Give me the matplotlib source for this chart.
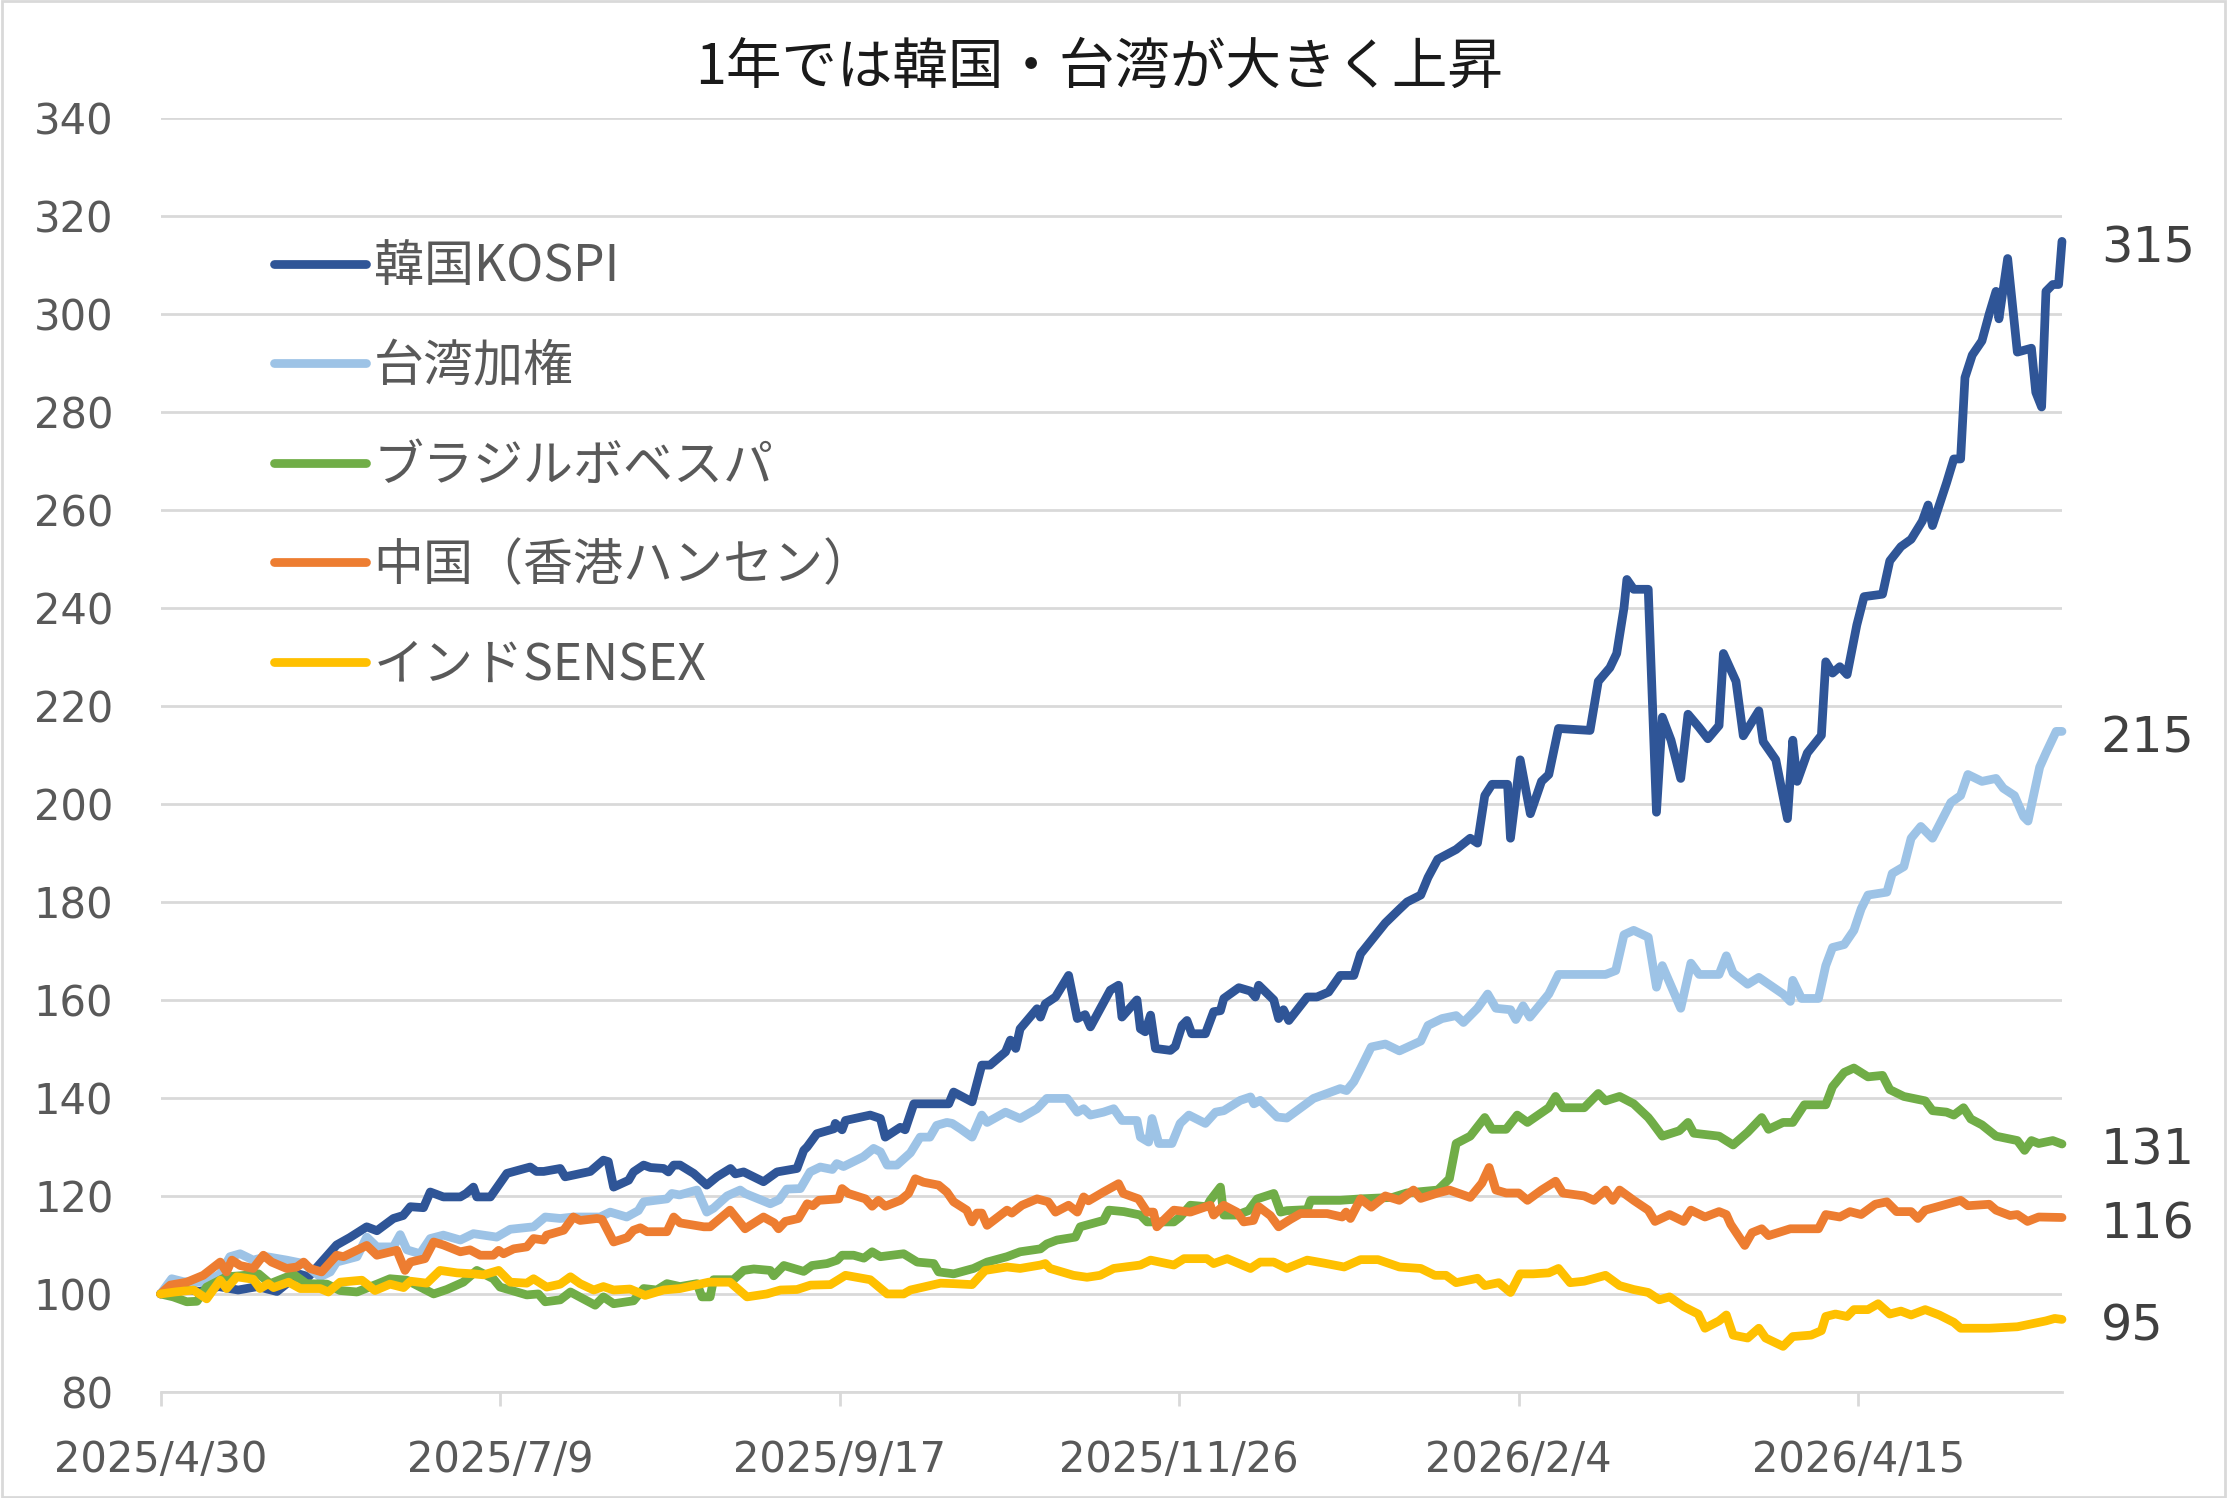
import numpy as np
import pandas as pd
import matplotlib
matplotlib.use("Agg")
import matplotlib.pyplot as plt
import matplotlib.dates as mdates
from matplotlib.patches import Rectangle

# 2025/4/30 = 100, day offsets
start = pd.Timestamp("2025-04-30")

kospi_days = [0, 4, 8, 12, 16, 20, 24, 26.5, 28.8, 30.5, 32.9, 36.3, 39, 42.5, 44.6, 48, 50, 51.5, 54.2, 55.6,
              58.3, 61.8, 63, 64.5, 65.2, 68, 71.4, 76.2, 77.5, 79, 82.4, 83.4, 88.6, 91.3, 92.3, 93.4, 96.5,
              97.5, 99.6, 101, 103.7, 104.7, 105.8, 107.1, 109.9, 112.6, 114.7, 117.5, 118.5, 120.2, 124.3,
              127.1, 131.2, 132.6, 133.3, 135.3, 138.8, 139.1, 140.5, 141.2, 146.3, 148.4, 149.4, 152.5, 153.5,
              155.3, 162.5, 163.5, 167.3, 169.3, 171, 174.2, 175.2, 176.3, 177.2, 180.7, 181.4, 182.4, 184.5,
              187.2, 189, 190.6, 191.7, 195.8, 197.5, 198.2, 201.3, 202, 203, 204.1, 205.1, 208.2, 209.2, 210.6,
              211.6, 212.6, 215.4, 217.1, 218.5, 219.2, 222.3, 224.7, 225.7, 226.4, 229.5, 230.5, 231.5, 232.6,
              236.4, 238.4, 240.8, 243.2, 246, 247.4, 252.5, 255.4, 257, 259.8, 261.3, 263.3, 267.1, 270, 271.5,
              273, 274.5, 277.7, 278.3, 280.3, 282.4, 284.7, 286.2, 288.2, 294.7, 296.4, 298.8, 300.2, 301.7,
              302.3, 303.7, 306.7, 308.4, 309.6, 311.4, 313.4, 314.9, 317.2, 319, 321.3, 322.2, 324.8, 326.3,
              329.5, 330.4, 333, 335.4, 336.5, 337.4, 339.5, 342.4, 343.3, 344.7, 346.2, 347.7, 349.7, 351.2,
              355, 356.5, 358.8, 360.9, 363.2, 364.4, 365.3, 368.2, 369.7, 371.1, 372, 373.5, 375.5, 377, 378.4,
              379, 380.8, 382.8, 385.7, 386.6, 387.8, 388.7, 390.1, 391.3, 392]
kospi_vals = [100, 101.2, 100.5, 101.5, 100.8, 101.5, 100.5, 102.5, 104, 103.5, 106.2, 110, 111.5, 113.7, 112.9,
              115.4, 116, 117.8, 117.6, 120.8, 119.8, 119.8, 120.5, 121.8, 119.8, 119.8, 124.6, 125.9, 125,
              125, 125.6, 123.9, 125, 127.3, 127, 121.8, 123.2, 124.9, 126.3, 125.8, 125.6, 124.9, 126.3, 126.3,
              124.6, 122.2, 123.9, 125.6, 124.5, 124.9, 122.9, 124.9, 125.6, 129.3, 130, 132.7, 133.7, 134.8,
              133.5, 135.4, 136.5, 135.8, 132, 134, 133.5, 138.8, 138.8, 141.2, 139.2, 146.7, 146.7, 149.4,
              151.8, 150.1, 154.1, 158.2, 156.5, 159.2, 160.6, 165, 156.2, 157, 154.5, 162, 163, 156.5, 160,
              154.1, 153.5, 156.9, 150.1, 149.7, 150.5, 154.8, 155.8, 153.1, 153.1, 157.6, 157.8, 160.3, 162.5,
              161.8, 160.6, 163, 160, 156.2, 158, 155.8, 160.6, 160.6, 161.6, 165, 165, 169.4, 175.7, 178.5,
              180, 181.4, 185, 188.7, 190.7, 193, 192, 201.7, 204, 204, 193, 209, 198, 204.6, 206, 215.4, 215,
              225, 227.8, 230.7, 240, 245.8, 243.8, 243.8, 198.3, 217.7, 213, 205.2, 218.3, 215.6, 213.3, 216,
              230.7, 225, 213.9, 219, 212.7, 209, 197, 213, 204.6, 210.4, 214, 229, 226.7, 228, 226.4, 236.5,
              242.3, 242.8, 249.6, 252.5, 254, 257.7, 261, 256.8, 265.5, 270.4, 270.4, 287, 291.6, 294.5, 300,
              304.6, 299, 311.3, 292.2, 293, 284, 281, 304.6, 306, 306, 314.8]

taiwan_days = [0, 2.3, 4.7, 9.5, 12.3, 14.3, 16.4, 19.1, 21.9, 26, 29.5, 32.9, 35, 36.3, 40.5, 42.5, 44.6, 48,
               49.4, 50.8, 53.5, 55.6, 58.3, 61.8, 64.5, 69.3, 72.1, 76.9, 79.3, 82.4, 85.1, 90.6, 92.7, 96.1,
               98.5, 99.6, 104.4, 105.4, 107, 110.6, 112.6, 114, 116.8, 119.5, 120.5, 125.7, 127.5, 129.1, 131.9,
               133.9, 136, 138.5, 139.4, 140.8, 144.9, 147, 148.4, 149.8, 151.8, 154.6, 156.6, 158.6, 160, 162.1,
               163.2, 164.9, 167.3, 169.3, 170.4, 174.2, 177.2, 180.7, 182.7, 186.9, 189, 190.3, 191.7, 194.4,
               196.5, 198.2, 201.3, 202, 203.7, 204.4, 205.8, 208.5, 210.2, 212, 215.4, 217.5, 219.2, 222.6,
               224.7, 225.4, 226.7, 230.2, 232.2, 237.7, 243.2, 244.5, 246, 247.4, 249.6, 252.5, 255.4, 259.8,
               261.3, 264.2, 267.1, 268.6, 271.5, 273.6, 275.3, 278.3, 279.4, 280.9, 282.3, 286.2, 288.2, 297.9,
               300, 301.7, 303.7, 306.7, 308.4, 309.6, 313.4, 315.5, 317.2, 321.3, 322.8, 324.2, 327.2, 329.5,
               334.5, 336, 336.5, 338.3, 341.8, 343.3, 344.7, 347.1, 349.1, 350.6, 352, 355.9, 357, 359.4, 360.9,
               362.9, 365.3, 369.1, 371.1, 372.6, 375.5, 378.4, 379.9, 382.2, 384.1, 385, 387.4, 388.7, 390.8, 392]
taiwan_vals = [100, 103.1, 102.5, 102.4, 104.1, 107.6, 108.2, 106.9, 107.6, 106.9, 106.2, 103.5, 104.5, 106.5,
               107.6, 111.6, 109.6, 109.6, 112.1, 109, 108.2, 111.3, 112, 111, 112.3, 111.6, 113.2, 113.7, 115.7,
               115.4, 115.7, 115.7, 116.7, 115.7, 117, 118.8, 119.4, 120.5, 120.2, 121.2, 116.7, 117.5, 120,
               121.2, 120.5, 118.4, 119.2, 121.4, 121.5, 124.9, 125.9, 125.4, 126.6, 126, 128, 129.7, 129, 126.3,
               126.3, 128.8, 132, 132, 134.4, 135, 134.8, 133.7, 132, 136.5, 135, 137.1, 135.8, 137.8, 139.9,
               139.9, 137.1, 137.8, 136.5, 137.1, 137.8, 135.4, 135.4, 132, 131, 135.8, 130.7, 130.7, 134.8,
               136.5, 134.8, 137.1, 137.4, 139.5, 140.2, 138.8, 139.5, 136.1, 135.9, 139.9, 141.9, 141.5, 143.3,
               146, 150.4, 151, 149.6, 151.6, 154.8, 156.2, 156.8, 155.4, 158.3, 161.2, 158.3, 158, 156, 158.8,
               156.5, 161.2, 165.2, 165.2, 166, 173.3, 174.2, 172.8, 162.6, 167, 158.3, 167.5, 165.2, 165.2, 169,
               165.5, 163.2, 164.6, 161.2, 159.7, 164, 160.3, 160.3, 167, 170.7, 171.3, 174.2, 178.6, 181.4, 182,
               185.8, 187.2, 193, 195.4, 193, 200.3, 201.7, 206, 204.6, 205.2, 203.2, 201.7, 197.4, 196.5, 207.5,
               210.4, 214.8, 214.8]

brazil_days = [0, 2.6, 5.4, 7.5, 9.5, 13.6, 16.4, 20.2, 22.6, 27.4, 30.1, 34.3, 37, 40.5, 44.6, 47.3, 50.8, 54.9,
               56.3, 59, 62.4, 65.2, 68.6, 70, 75.5, 77.9, 79.3, 82.4, 84.5, 89.6, 91.3, 93.4, 97.5, 99.6, 102.3,
               104.4, 107.1, 110.6, 111.6, 113.3, 114, 118.1, 120.2, 122.3, 125.7, 126.4, 128.5, 132.6, 134.3,
               137.4, 139.5, 140.5, 142.9, 145, 146.7, 148.4, 153.2, 156, 159.4, 160.4, 163.5, 167.6, 170.4,
               174.5, 177.2, 181.4, 182.7, 184.8, 188.6, 189.6, 194.4, 195.5, 198.6, 202, 203.4, 208.9, 210.2,
               212.3, 215.7, 216.4, 218.5, 219.2, 221.9, 224.3, 226.1, 229.5, 230.9, 232.2, 236.4, 237.1, 243.2,
               247.4, 254, 256.9, 263.3, 265.7, 267.1, 270, 273, 274.5, 277.4, 279.7, 281.8, 286.2, 287.6, 289.1,
               293.5, 296.4, 297.9, 300.8, 303.7, 306.7, 307.5, 309.6, 313.1, 314.9, 316.1, 321.3, 324.2, 327.2,
               330.1, 331.5, 334.5, 336.5, 338.9, 343.3, 344.7, 347.1, 349.1, 352, 355, 356.5, 359.4, 363.8, 365.3,
               368.2, 369.7, 371.7, 373.2, 375.5, 378.4, 382.8, 384.3, 385.7, 387.2, 390.1, 392]
brazil_vals = [100, 99.4, 98.4, 98.5, 101.4, 103.5, 103.7, 104.1, 102.1, 104, 102.1, 102, 100.7, 100.4, 102,
               103.1, 102.8, 100.7, 100, 100.9, 102.4, 104.8, 103.1, 101.4, 99.8, 100, 98.4, 98.8, 100.4, 97.7,
               99.4, 98, 98.6, 101.1, 100.8, 102.1, 101.5, 102.1, 99.4, 99.4, 102.9, 102.9, 104.8, 105.1, 104.8,
               103.7, 105.8, 104.6, 105.8, 106.2, 106.9, 107.9, 107.9, 107.3, 108.6, 107.6, 108.2, 106.5, 106.2,
               104.5, 104.1, 105.2, 106.5, 107.6, 108.6, 109.2, 110.2, 111, 111.6, 113.7, 115, 117.1, 116.8,
               116.1, 114.7, 114.7, 115.7, 118.1, 117.8, 119.1, 121.8, 116.1, 116.1, 117, 119.4, 120.5, 116.7,
               117, 117.2, 119.1, 119.1, 119.4, 119.7, 120.6, 121.2, 123.5, 130.7, 132.2, 136, 133.6, 133.6,
               136.5, 135, 138, 140.3, 138, 138, 140.9, 139.4, 140.3, 138.8, 136, 135, 132.2, 133.3, 135, 132.8,
               132.2, 130.4, 133, 136, 133.6, 135, 135, 138.6, 138.6, 142.3, 145.2, 146.1, 144.3, 144.6, 141.7,
               140.3, 139.4, 137.4, 137.1, 136.5, 138, 135.7, 134.5, 132.2, 131.3, 129.3, 131.3, 130.7, 131.3,
               130.6]

hk_days = [0, 2, 5.4, 8.8, 12.3, 13.6, 14.7, 16.4, 19.1, 21.2, 22.9, 26, 28.1, 29.5, 30.8, 33.2, 36.3, 37.7, 42.5,
           44.6, 48.7, 50.4, 51.5, 54.5, 56.3, 58.3, 61.8, 63.8, 65.9, 68.6, 69.7, 70.7, 72.8, 75.5, 76.9, 79, 79.6,
           83.1, 85.1, 86.5, 90, 91, 93.4, 96.2, 97.5, 98.9, 100.3, 104.4, 105.8, 107.1, 112, 113.3, 117.4, 120.5,
           124.3, 126.5, 127.4, 128.8, 131.5, 133.3, 134.5, 135.7, 139.8, 140.5, 141.8, 145.3, 146.7, 148, 149.4,
           152.5, 154.2, 155.6, 157.3, 160.4, 162.1, 163.5, 166.2, 167.3, 168.3, 169.3, 170.4, 174.5, 175.5, 177.6,
           180.7, 183, 184.5, 187.2, 189, 190.3, 191.3, 194.4, 197.5, 198.5, 201.6, 203.4, 204.7, 205.4, 208.9,
           212.3, 216.4, 217.1, 219.2, 221.9, 223.3, 225.3, 226.4, 228.8, 230.5, 232.9, 235, 240.5, 243.6, 244.4,
           245.3, 247.4, 249.6, 252.5, 255.4, 258.3, 259.8, 263.3, 265.7, 270, 272.4, 273.9, 275.3, 277.4, 280,
           281.8, 284.7, 287.6, 289.1, 293.5, 295.5, 297.9, 299.4, 300.8, 303.7, 306.7, 308.1, 311.1, 314, 315.5,
           318.4, 321.3, 322.8, 323.7, 326.6, 328.1, 330.1, 331.5, 336, 341.8, 343.3, 346.2, 348.3, 350.6, 353.5,
           355.9, 357.9, 360.9, 362.3, 363.8, 368.2, 371.1, 372.6, 377, 378.4, 381.3, 382.8, 384.9, 387.2, 392]
hk_vals = [100, 101.8, 102.4, 103.8, 106.5, 104.5, 106.9, 105.8, 105.2, 107.9, 106.5, 105.2, 105.5, 106.5, 105.2,
           104.5, 107.9, 107.6, 109.9, 107.9, 108.9, 104.8, 106.5, 107.2, 110.6, 110, 108.6, 109, 107.9, 107.9,
           108.9, 108.2, 109.2, 109.6, 111.3, 111, 112, 113, 115.7, 115, 115.4, 115.2, 110.6, 111.5, 113, 113.5,
           112.7, 112.7, 115.7, 114.5, 113.7, 113.7, 117.1, 113.3, 115.7, 114.5, 113.3, 114.8, 115.4, 118.4, 118,
           119.1, 119.4, 121.5, 120.5, 119.4, 117.9, 119.1, 117.9, 119.1, 120.5, 123.5, 122.8, 122.2, 120.8, 118.8,
           117.1, 114.7, 116.5, 116.5, 114, 117.1, 116.5, 118.1, 119.4, 118.8, 116.7, 118.1, 116.7, 119.8, 119,
           120.8, 122.5, 120.5, 119.4, 116.7, 116.7, 113.7, 117.1, 116.7, 118.1, 116.1, 118.1, 116.7, 114.7, 115,
           117.8, 116, 113.7, 115.2, 116.4, 116.4, 115.7, 116.7, 115.4, 119.4, 117.7, 120, 119.1, 121.2, 119.5,
           120.6, 121.2, 119.7, 122.6, 125.8, 121.2, 120.6, 120.6, 119.1, 121.2, 123, 120.6, 120, 119.1, 121.2,
           119.1, 121.2, 119.1, 117.1, 114.8, 116.2, 114.8, 117.1, 115.7, 116.8, 116.2, 114.2, 109.9, 112.5, 113.3,
           111.9, 113.3, 113.3, 116.2, 115.7, 116.8, 116.2, 118.3, 118.8, 116.8, 116.8, 115.4, 117.1, 118.3, 119.1,
           118, 118.3, 117.1, 116, 116.2, 114.8, 115.7, 115.6]

india_days = [0, 3, 6.8, 9.5, 12.3, 13.6, 15.7, 19.1, 20.5, 22.2, 23.3, 26.4, 28.8, 32.9, 34.6, 37, 41.5, 44.2, 47.3,
              50.1, 51.5, 54.9, 57.6, 61.1, 64.5, 66.6, 69.7, 72.1, 75.5, 76.9, 79.6, 82.4, 84.5, 86.5, 89.3, 91.3,
              93.4, 96.8, 99.9, 103.7, 107.1, 113, 117.4, 120.9, 125, 127.8, 131.2, 134, 138.1, 141.2, 146.3, 149.8,
              153.2, 154.6, 160.8, 163.5, 167.3, 170, 174.5, 177.2, 181.4, 182.4, 183.4, 188.2, 191, 193.7, 196.5,
              202, 204.1, 208.9, 211, 215.7, 217.1, 219.9, 224.7, 226.7, 229.5, 232.2, 236.4, 239.8, 244, 247.4, 251,
              255.4, 259.8, 262.7, 265, 267.1, 271.5, 273, 275.9, 278.3, 280.3, 283, 286.2, 288.2, 290.6, 293.5,
              297.9, 300.8, 303.7, 306.7, 309, 311.1, 314, 317, 318.4, 321.3, 322.8, 324.2, 327.2, 329.5, 330.9,
              334.5, 336.5, 340.3, 342.4, 343.3, 345.3, 347.7, 349.1, 352, 354.1, 356.5, 358.8, 360.9, 363.8, 366.7,
              369.7, 371.1, 377, 382.8, 388.7, 390.5, 392]
india_vals = [100, 100.4, 100.8, 99, 102.8, 101.1, 103.5, 103, 101.1, 102.1, 101.3, 102.4, 101.1, 101.1, 100.4,
              102.4, 102.8, 100.7, 102, 101.3, 102.6, 102.2, 104.8, 104.3, 104.1, 103.9, 104.8, 102.4, 102.2, 103.1,
              101.4, 102, 103.5, 102.1, 100.8, 101.5, 100.8, 101, 99.7, 100.8, 101.1, 102.4, 102.4, 99.4, 100, 100.8,
              100.9, 101.8, 101.9, 103.8, 102.9, 100, 100, 100.8, 102.2, 102.1, 101.9, 104.8, 105.5, 105.2, 105.9,
              106.2, 105.2, 103.8, 103.4, 103.8, 105.2, 105.9, 106.9, 105.9, 107.2, 107.2, 106.2, 107.2, 105.2, 106.5,
              106.5, 105.2, 106.9, 106.3, 105.5, 107, 107, 105.5, 105.2, 103.8, 103.8, 102.3, 103.2, 101.7, 102.3,
              100.3, 104.1, 104.1, 104.3, 105.2, 102.3, 102.6, 103.8, 101.7, 100.9, 100.3, 98.8, 99.4, 97.4, 95.9, 93,
              94.5, 95.7, 91.6, 91, 93, 91, 89.3, 91.3, 91.6, 92.5, 95.4, 95.9, 95.4, 96.8, 96.8, 98, 95.9, 96.5, 95.7,
              96.8, 95.7, 94.2, 93, 93, 93.3, 94.5, 95, 94.8]

names = ["韓国KOSPI", "台湾加権", "ブラジルボベスパ", "中国（香港ハンセン）", "インドSENSEX"]
colors = ["#2F5597", "#9DC3E6", "#70AD47", "#ED7D31", "#FFC000"]
end_labels = ["315", "215", "131", "116", "95"]
tick_days = [0, 70, 140, 210, 280, 350]

series = [(kospi_days, kospi_vals), (taiwan_days, taiwan_vals), (brazil_days, brazil_vals),
          (hk_days, hk_vals), (india_days, india_vals)]

jp = ["Noto Sans CJK JP", "DejaVu Sans"]

fig = plt.figure(figsize=(22.27, 14.98), dpi=100)
ax = fig.add_axes([0.0721, 0.0708, 0.8538, 0.8505])

for (d, v), name, c in zip(series, names, colors):
    x = start + pd.to_timedelta(np.array(d), unit="D")
    ax.plot(x, v, color=c, lw=6.3, label=name, solid_joinstyle="round",
            solid_capstyle="round", clip_on=False)

for (d, v), lab in zip(series, end_labels):
    x = start + pd.Timedelta(days=d[-1])
    ax.annotate(lab, xy=(mdates.date2num(x), v[-1]), xytext=(28, -5), textcoords="offset points",
                ha="left", va="center", fontsize=35.5, color="#404040", annotation_clip=False)

ax.set_xlim(mdates.date2num(start), mdates.date2num(start + pd.Timedelta(days=392)))
ax.set_ylim(80, 340)
ax.set_yticks(np.arange(80, 341, 20))
ticks = [start + pd.Timedelta(days=t) for t in tick_days]
ax.set_xticks([mdates.date2num(t) for t in ticks])
ax.set_xticklabels([f"{t.year}/{t.month}/{t.day}" for t in ticks])

ax.yaxis.grid(True, color="#D9D9D9", lw=2)
ax.set_axisbelow(True)
for s in ["top", "right", "left"]:
    ax.spines[s].set_visible(False)
ax.spines["bottom"].set_color("#D9D9D9")
ax.spines["bottom"].set_linewidth(2)
ax.tick_params(axis="x", direction="out", length=10, width=2, color="#D9D9D9",
               labelsize=30, labelcolor="#595959", pad=24)
ax.tick_params(axis="y", length=0, labelsize=30, labelcolor="#595959", pad=34)

leg = ax.legend(loc="upper left", bbox_to_anchor=(0.0597, 0.903), frameon=False,
                prop={"family": jp, "size": 36}, handlelength=1.84, handletextpad=0.15,
                labelspacing=0.95, borderaxespad=0, borderpad=0)
for t in leg.get_texts():
    t.set_color("#595959")

fig.text(0.4936, 0.9546, "1年では韓国・台湾が大きく上昇", ha="center", va="center",
         fontsize=40, family=jp, color="#1a1a1a")

fig.patches.append(Rectangle((0.001, 0.001), 0.998, 0.998, transform=fig.transFigure,
                             fill=False, edgecolor="#D9D9D9", lw=2))

fig.savefig("out.png", dpi=100)
